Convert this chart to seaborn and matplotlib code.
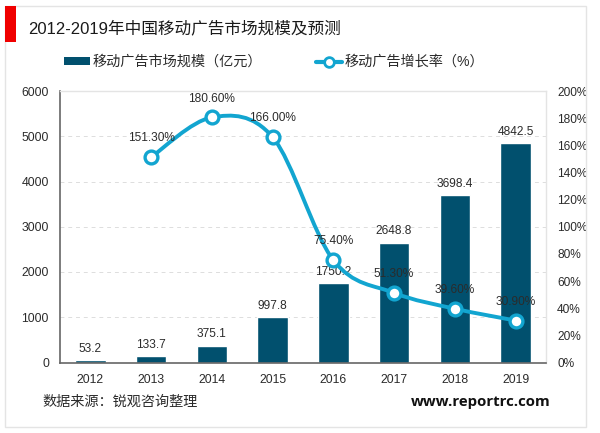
import numpy as np
import pandas as pd
import matplotlib
matplotlib.use('Agg')
import matplotlib.pyplot as plt
import seaborn as sns
from matplotlib.lines import Line2D
from matplotlib.patches import PathPatch, Patch, Rectangle
from matplotlib.path import Path

# data
years = ['2012', '2013', '2014', '2015', '2016', '2017', '2018', '2019']
market_size = [53.2, 133.7, 375.1, 997.8, 1750.2, 2648.8, 3698.4, 4842.5]
growth_years = ['2013', '2014', '2015', '2016', '2017', '2018', '2019']
growth_rate = [151.3, 180.6, 166.0, 75.4, 51.3, 39.6, 30.9]
left_ticks = [0, 1000, 2000, 3000, 4000, 5000, 6000]
right_ticks = [0, 20, 40, 60, 80, 100, 120, 140, 160, 180, 200]

title = '2012-2019年中国移动广告市场规模及预测'
bar_name = '移动广告市场规模（亿元）'
line_name = '移动广告增长率（%）'
source = '数据来源：锐观咨询整理'
site = 'www.reportrc.com'

BAR_COLOR = '#01506e'
LINE_COLOR = '#12a5d0'
TEXT_COLOR = '#2b2b2b'

sns.set_theme(style='white')
plt.rcParams['font.family'] = ['Liberation Sans', 'Noto Sans CJK SC']

W, H = 600, 433
fig = plt.figure(figsize=(6, 4.33), dpi=100)
ax = fig.add_axes([60 / W, 1 - 362.5 / H, 486 / W, 271.5 / H])

# outer frame and red block
fig.add_artist(Rectangle((5 / W, 1 - 427 / H), 581 / W, 421 / H, transform=fig.transFigure,
                         fill=False, edgecolor='#e4e4e4', linewidth=1))
fig.add_artist(Rectangle((5 / W, 1 - 42 / H), 11 / W, 36 / H, transform=fig.transFigure,
                         facecolor='#f00000', edgecolor='none'))

# bars
df = pd.DataFrame({'year': years, 'size': market_size})
sns.barplot(data=df, x='year', y='size', color=BAR_COLOR, saturation=1, width=0.5, ax=ax, zorder=2)
ax.set_ylim(0, 6000)
ax.set_xlim(-0.5, 7.5)
ax.set_yticks(left_ticks)
ax.set_xlabel('')
ax.set_ylabel('')
ax.grid(axis='y', color='#dddddd', linestyle=(0, (4, 4)), linewidth=0.7)
ax.set_axisbelow(True)
ax.tick_params(axis='x', length=0, labelsize=8.8, labelcolor=TEXT_COLOR, pad=8.5)
ax.tick_params(axis='y', length=0, labelsize=8.8, labelcolor=TEXT_COLOR, pad=8)

for spine in ['top', 'right']:
    ax.spines[spine].set_color('#e4e4e4')
    ax.spines[spine].set_linewidth(1)
for spine in ['left', 'bottom']:
    ax.spines[spine].set_color('#666666')
    ax.spines[spine].set_linewidth(1.2)

for i, v in enumerate(market_size):
    ax.annotate(str(v), (i, v), xytext=(0, 4), textcoords='offset points',
                ha='center', va='bottom', fontsize=8.6, color=TEXT_COLOR, zorder=3)

# growth rate on the right axis
ax2 = ax.twinx()
ax2.set_ylim(0, 200)
ax2.set_yticks(right_ticks)
ax2.set_yticklabels([f'{t}%' for t in right_ticks])
ax2.tick_params(axis='y', length=0, labelsize=8.6, labelcolor=TEXT_COLOR, pad=8)
ax2.set_ylabel('')
ax2.grid(False)
for spine in ax2.spines.values():
    spine.set_visible(False)

# smoothed line like the office chart: bezier through the data points
xs = np.array([years.index(y) for y in growth_years], dtype=float)
ys = np.array(growth_rate)
verts = [(xs[0], ys[0])]
codes = [Path.MOVETO]
for i in range(len(xs) - 1):
    p0 = i - 1 if i > 0 else i
    p3 = i + 2 if i + 2 < len(xs) else i + 1
    verts.append((xs[i] + (xs[i + 1] - xs[p0]) / 6, ys[i] + (ys[i + 1] - ys[p0]) / 6))
    verts.append((xs[i + 1] - (xs[p3] - xs[i]) / 6, ys[i + 1] - (ys[p3] - ys[i]) / 6))
    verts.append((xs[i + 1], ys[i + 1]))
    codes += [Path.CURVE4] * 3
ax2.add_patch(PathPatch(Path(verts, codes), fill=False, edgecolor=LINE_COLOR, linewidth=2.8, zorder=4))

sns.scatterplot(x=xs, y=ys, ax=ax2, s=85, color='white', edgecolor=LINE_COLOR, linewidth=2.4, zorder=5)

for x, v in zip(xs, growth_rate):
    ax2.annotate(f'{v:.2f}%', (x, v), xytext=(0, 13.5), textcoords='offset points',
                 ha='center', va='center', fontsize=8.6, color=TEXT_COLOR, zorder=6)

# title, legend, notes
fig.text(28 / W, 1 - 28 / H, title, fontsize=12, color='#1a1a1a', va='center')

handles = [Patch(facecolor=BAR_COLOR, edgecolor='none'),
           Line2D([0], [0], color=LINE_COLOR, linewidth=3, marker='o', markersize=7,
                  markerfacecolor='white', markeredgecolor=LINE_COLOR, markeredgewidth=2)]
fig.legend(handles, [bar_name, line_name], loc='center left', bbox_to_anchor=(64 / W, 1 - 62 / H),
           ncol=2, frameon=False, fontsize=10.2, labelcolor=TEXT_COLOR, handlelength=1.85,
           handleheight=0.4, handletextpad=0.2, columnspacing=3.75, borderpad=0, borderaxespad=0)

fig.text(42 / W, 1 - 402 / H, source, fontsize=10.2, color=TEXT_COLOR, va='center')
fig.text(411 / W, 1 - 402 / H, site, fontsize=10.8, fontweight='bold', color='#111111', va='center',
         family='Open Sans')

fig.savefig('out.png', dpi=100)
